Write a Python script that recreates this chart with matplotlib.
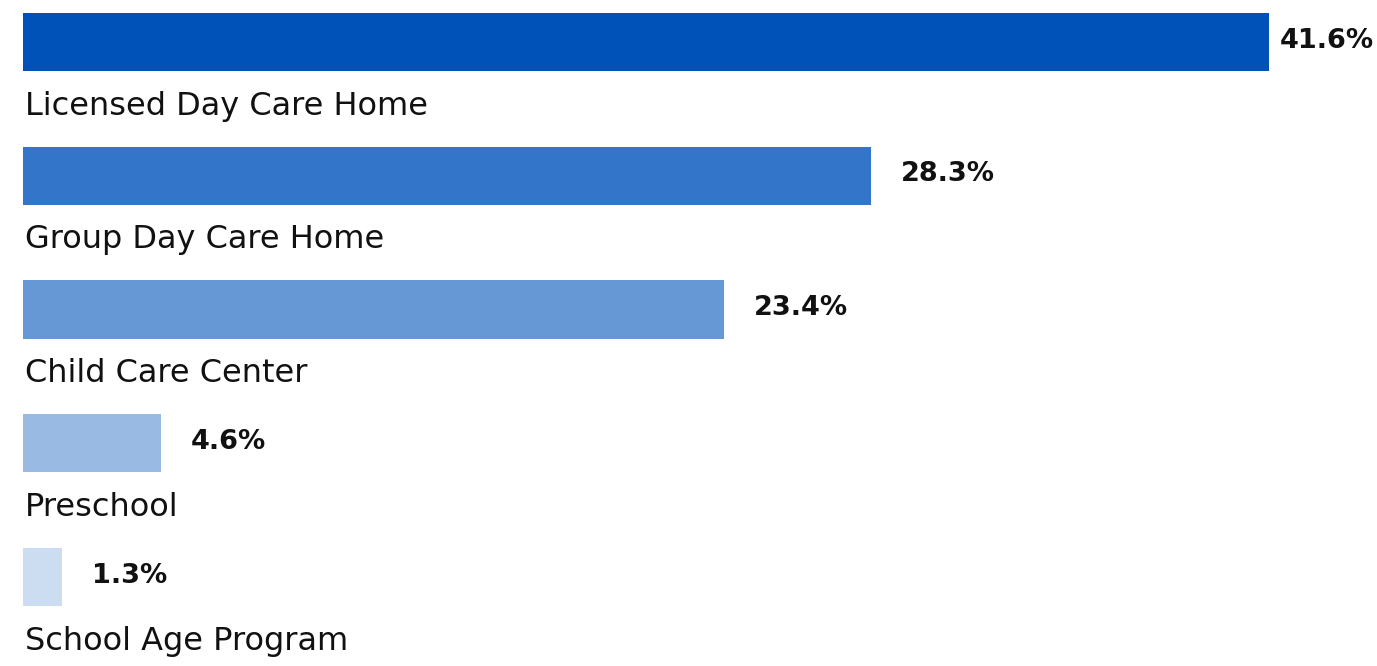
import matplotlib.pyplot as plt
import numpy as np

categories = ['Licensed Day Care Home', 'Group Day Care Home', 'Child Care Center',
              'Preschool', 'School Age Program']
shares = [41.6, 28.3, 23.4, 4.6, 1.3]
colors = ['#0052b9', '#3375c8', '#6698d6', '#99bae3', '#ccddf1']

W, H = 1377, 666
fig = plt.figure(figsize=(W / 100, H / 100), dpi=100)
ax = fig.add_axes([0, 0, 1, 1])

px_per_pct = 29.95
left_px = 23
ax.set_xlim(-left_px / px_per_pct, (W - left_px) / px_per_pct)
row_px = 133.75
top_px = 42
ax.set_ylim((H - top_px) / row_px, -top_px / row_px)

y = np.arange(len(categories))
ax.barh(y, shares, height=0.434, color=colors, left=0)

for i, (cat, v) in enumerate(zip(categories, shares)):
    ax.text(0.07, i + 0.48, cat, fontsize=23, family='DejaVu Sans', va='center', ha='left',
            color='#111111')
    # keep the value label inside the figure for the longest bar
    xpos = min(v + 30 / px_per_pct, (W - left_px - 97) / px_per_pct)
    ax.text(xpos, i - 0.01, f'{v}%', fontsize=19.5, family='DejaVu Sans', fontweight='bold',
            va='center', ha='left', color='#111111')

ax.axis('off')
fig.savefig('out.png', dpi=100)
